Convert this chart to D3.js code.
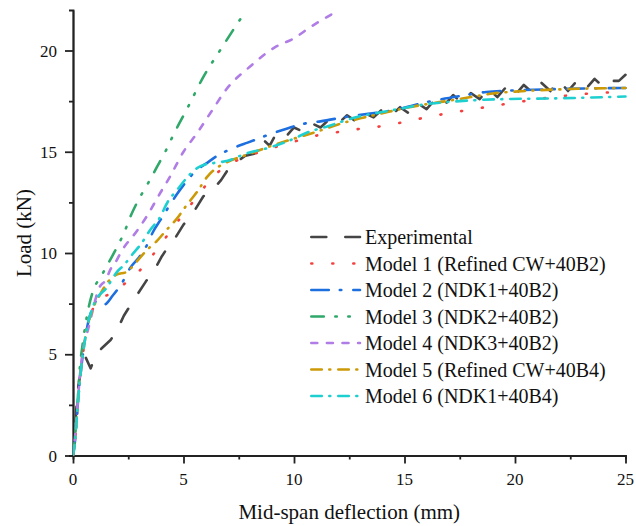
<!DOCTYPE html>
<html>
<head>
<meta charset="utf-8">
<script src="https://cdn.jsdelivr.net/npm/d3@7"></script>
</head>
<body style="margin:0">
<script>
// Load-deflection curves, [deflection (mm), load (kN)]
const experimental = [[0,0],[0.08,1.2],[0.15,2.3],[0.25,3.5],[0.4,4.4],[0.55,4.9],[0.8,4.3],[1.0,4.9],[1.3,5.3],[1.7,5.7],[2.0,6.2],[2.3,6.9],[2.7,7.6],[3.0,8.1],[3.3,8.6],[3.7,9.2],[4.0,9.8],[4.3,10.3],[4.6,10.7],[5.0,11.4],[5.5,12.1],[5.9,12.8],[6.3,13.1],[6.7,13.6],[7.0,14.1],[7.4,14.5],[7.8,14.8],[8.2,14.9],[8.6,15.6],[8.9,15.3],[9.2,15.9],[9.6,15.7],[10.0,16.2],[10.4,16.0],[10.8,16.4],[11.2,16.2],[11.6,16.6],[12.0,16.4],[12.4,16.8],[12.8,16.5],[13.2,16.9],[13.6,16.7],[14.0,17.1],[14.4,16.8],[14.8,17.2],[15.2,16.9],[15.6,17.4],[16.0,17.1],[16.4,17.6],[16.8,17.3],[17.2,17.8],[17.6,17.4],[18.0,17.9],[18.4,17.6],[18.8,18.1],[19.2,17.7],[19.6,18.2],[20.0,17.8],[20.4,18.3],[20.8,17.9],[21.2,18.4],[21.6,18.0],[22.0,18.5],[22.4,18.0],[22.8,18.5],[23.2,18.1],[23.6,18.6],[24.0,18.2],[24.4,18.5],[24.7,18.5],[25.0,18.8]];

const model1 = [[0,0],[0.1,0.8],[0.2,2.3],[0.3,3.6],[0.45,5.0],[0.6,6.1],[0.85,7.1],[1.2,7.7],[1.6,7.95],[2.1,8.3],[2.9,9.0],[3.5,9.75],[4.06,10.56],[4.62,11.39],[5.17,12.16],[5.75,12.98],[6.34,13.77],[7.18,14.44],[8.08,14.85],[9.0,15.18],[10.0,15.5],[10.8,15.75],[11.7,15.92],[12.6,16.08],[13.56,16.2],[14.47,16.36],[16.3,16.77],[18.1,17.1],[20.0,17.43],[21.9,17.72],[23.7,17.9],[25.0,17.96]];

const model2 = [[0,0],[0.1,0.8],[0.2,2.3],[0.3,3.6],[0.45,5.0],[0.6,6.1],[0.85,7.2],[1.1,7.65],[1.4,7.45],[1.8,7.9],[2.26,8.6],[2.58,9.25],[3.0,9.8],[3.35,10.4],[3.6,11.0],[4.0,11.7],[4.4,12.4],[4.7,12.9],[5.0,13.35],[5.6,14.1],[6.0,14.4],[6.5,14.78],[7.4,15.25],[7.9,15.45],[9.0,15.9],[9.7,16.15],[10.3,16.35],[11.2,16.5],[12.5,16.75],[14.5,17.05],[16.0,17.45],[17.5,17.75],[18.7,17.95],[20.0,18.03],[21.7,18.09],[25.0,18.15]];

const model3 = [[0,0],[0.1,1.0],[0.2,2.5],[0.3,4.2],[0.45,5.6],[0.65,7.0],[0.9,8.1],[1.3,8.9],[1.6,9.5],[2.0,10.3],[2.35,11.1],[2.6,11.8],[2.95,12.6],[3.4,13.45],[3.8,14.25],[4.2,15.05],[4.55,15.85],[5.2,17.2],[5.9,18.7],[6.65,20.0],[7.3,21.1],[7.85,22.0]];

const model4 = [[0,0],[0.1,1.0],[0.2,2.4],[0.3,3.8],[0.45,5.2],[0.7,6.3],[0.9,7.2],[1.15,8.2],[1.5,8.7],[1.7,9.2],[1.9,9.5],[2.2,10.1],[2.9,11.1],[3.33,11.8],[3.94,12.95],[4.39,13.77],[5.0,15.0],[5.6,15.9],[6.27,17.0],[6.95,18.1],[8.0,19.2],[9.2,20.2],[10.0,20.6],[10.6,21.05],[11.1,21.4],[11.8,21.85]];

const model5 = [[0,0],[0.1,0.8],[0.2,2.3],[0.3,3.6],[0.45,5.0],[0.6,6.1],[0.85,7.1],[1.2,7.9],[1.6,8.6],[2.0,8.95],[2.4,9.05],[2.9,9.6],[3.3,10.1],[3.8,10.6],[4.2,11.1],[4.7,11.7],[5.1,12.3],[5.6,13.0],[6.1,13.8],[6.5,14.2],[7.0,14.5],[8.0,14.9],[9.0,15.3],[10.0,15.65],[11.0,15.98],[12.0,16.35],[13.0,16.65],[14.0,16.9],[15.0,17.15],[16.0,17.35],[17.0,17.52],[18.0,17.7],[19.0,17.88],[20.0,17.97],[22.0,18.08],[25.0,18.15]];

const model6 = [[0,0],[0.1,0.8],[0.2,2.3],[0.3,3.6],[0.45,5.0],[0.6,6.1],[0.85,7.2],[1.05,7.7],[1.5,8.25],[2.0,9.08],[2.3,9.4],[2.7,9.95],[3.1,10.48],[3.5,11.15],[3.9,11.7],[4.3,12.55],[4.7,13.1],[5.1,13.65],[5.5,14.1],[5.8,14.3],[6.4,14.45],[7.0,14.55],[7.8,14.9],[8.8,15.18],[9.9,15.6],[10.6,15.95],[11.5,16.25],[12.8,16.7],[14.2,17.0],[16.0,17.35],[17.5,17.5],[19.5,17.6],[21.5,17.63],[23.5,17.68],[25.0,17.73]];

const seriesNames = ["Experimental", "Model 1 (Refined CW+40B2)", "Model 2 (NDK1+40B2)", "Model 3 (NDK2+40B2)", "Model 4 (NDK3+40B2)", "Model 5 (Refined CW+40B4)", "Model 6 (NDK1+40B4)"];
const seriesData = [experimental, model1, model2, model3, model4, model5, model6];
const seriesColors = ["#454545", "#f4413f", "#1d6fe0", "#2fa86a", "#b07ce6", "#cc9a06", "#1ecfd0"];
const seriesDashes = ["15,19", "1,20", "17.5,11,1.5,12", "12.5,11.5,1.5,11.5,1.5,11.5", "6,9.6", "10.5,7.5,1,8", "10.5,7.5,1,8"];

const xTicks = [0, 5, 10, 15, 20, 25];
const yTicks = [0, 5, 10, 15, 20];

const margin = { left: 73, right: 10.5, top: 10, bottom: 70.5 };
const W = 636, H = 526;
const width = W - margin.left - margin.right;
const height = H - margin.top - margin.bottom;

const svg = d3.select("body").append("svg")
    .attr("width", W)
    .attr("height", H);

const g = svg.append("g")
    .attr("transform", `translate(${margin.left}, ${margin.top})`);

const x = d3.scaleLinear().domain([0, 25]).range([0, width]);
const y = d3.scaleLinear().domain([0, 22]).range([height, 0]);

// minor ticks (no labels)
g.append("g")
    .attr("transform", `translate(0, ${height})`)
    .call(d3.axisBottom(x).tickValues(d3.range(2.5, 25, 5)).tickSize(4).tickFormat(""));
g.append("g")
    .call(d3.axisLeft(y).tickValues(d3.range(2.5, 22, 5)).tickSize(4).tickFormat(""));

// major ticks
g.append("g")
    .attr("class", "x-axis")
    .attr("transform", `translate(0, ${height})`)
    .call(d3.axisBottom(x).tickValues(xTicks).tickSize(8).tickPadding(9).tickSizeOuter(0));

g.append("g")
    .attr("class", "y-axis")
    .call(d3.axisLeft(y).tickValues(yTicks).tickSize(8).tickPadding(8).tickSizeOuter(0));

g.selectAll(".domain, .tick line").attr("stroke", "#222").attr("stroke-width", 1.8);
g.selectAll(".tick text").remove();

// tick labels as plain text
g.selectAll(".xlab").data(xTicks).enter().append("text")
    .attr("x", d => x(d))
    .attr("y", height + 29.5)
    .attr("text-anchor", "middle")
    .attr("font-size", 17)
    .style("font-family", "'Liberation Serif'")
    .attr("fill", "#111")
    .text(d => d);

g.selectAll(".ylab").data(yTicks).enter().append("text")
    .attr("x", -16)
    .attr("y", d => y(d) + 6)
    .attr("text-anchor", "end")
    .attr("font-size", 17)
    .style("font-family", "'Liberation Serif'")
    .attr("fill", "#111")
    .text(d => d);

// lines
g.append("clipPath").attr("id", "plot-clip")
    .append("rect").attr("x", 0).attr("y", 0).attr("width", width + 2).attr("height", height);

const line = d3.line()
    .x(d => x(d[0]))
    .y(d => y(d[1]));

seriesData.forEach((data, i) => {
    g.append("path")
        .datum(data)
        .attr("clip-path", "url(#plot-clip)")
        .attr("fill", "none")
        .attr("stroke", seriesColors[i])
        .attr("stroke-width", 2.6)
        .attr("stroke-linecap", "round")
        .attr("stroke-linejoin", "round")
        .attr("stroke-dasharray", seriesDashes[i])
        .attr("d", line.curve(i === 0 ? d3.curveLinear : d3.curveMonotoneX)(data));
});

// axis titles
svg.append("text")
    .attr("x", margin.left + width / 2)
    .attr("y", 519)
    .attr("text-anchor", "middle")
    .attr("font-size", 21)
    .style("font-family", "'Liberation Serif'")
    .attr("fill", "#111")
    .text("Mid-span deflection (mm)");

svg.append("text")
    .attr("transform", "rotate(-90)")
    .attr("x", -233)
    .attr("y", 31)
    .attr("text-anchor", "middle")
    .attr("font-size", 21)
    .style("font-family", "'Liberation Serif'")
    .attr("fill", "#111")
    .text("Load (kN)");

// legend
const legend = svg.append("g").attr("transform", "translate(310, 237)");
const entries = legend.selectAll(".legend-entry")
    .data(seriesNames)
    .enter().append("g")
    .attr("class", "legend-entry")
    .attr("transform", (d, i) => `translate(0, ${i * 26.5})`);

entries.append("line")
    .attr("x1", 1.3).attr("x2", 50)
    .attr("y1", 0).attr("y2", 0)
    .attr("stroke", (d, i) => seriesColors[i])
    .attr("stroke-width", 2.6)
    .attr("stroke-linecap", "round")
    .attr("stroke-dasharray", (d, i) => seriesDashes[i]);

entries.append("text")
    .attr("x", 55)
    .attr("y", 7)
    .attr("font-size", 20)
    .style("font-family", "'Liberation Serif'")
    .attr("fill", "#111")
    .text(d => d);
</script>
</body>
</html>
